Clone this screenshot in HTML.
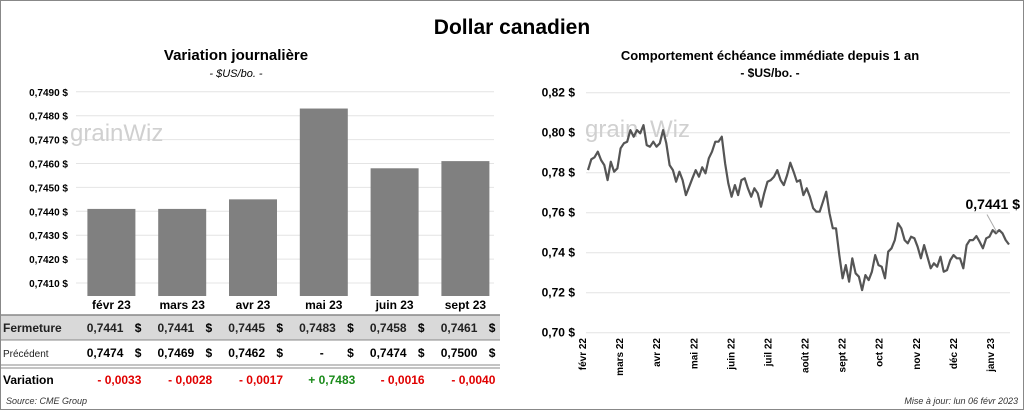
<!DOCTYPE html>
<html><head><meta charset="utf-8"><style>
body{margin:0;background:#fff;font-family:"Liberation Sans",sans-serif}
#c{position:relative;width:1024px;height:410px;overflow:hidden}
</style></head><body>
<div id="c">
<svg id="s" width="1024" height="410" xmlns="http://www.w3.org/2000/svg" font-family="Liberation Sans, sans-serif">
<rect x="0.5" y="0.5" width="1023" height="409" fill="#fff" stroke="#888"/>
<text x="512" y="34" text-anchor="middle" font-size="21" font-weight="bold">Dollar canadien</text>
<text x="236" y="60" text-anchor="middle" font-size="15" font-weight="bold">Variation  journalière</text>
<text x="236" y="77" text-anchor="middle" font-size="11" font-style="italic">- $US/bo. -</text>
<text x="770" y="60" text-anchor="middle" font-size="13" font-weight="bold">Comportement échéance immédiate depuis 1 an</text>
<text x="770" y="77" text-anchor="middle" font-size="12" font-weight="bold">- $US/bo. -</text>
<g id="left"></g><g id="right"></g><g id="tbl"></g>
<text x="6" y="404" font-size="9" font-style="italic" fill="#333">Source: CME Group</text>
<text x="1018" y="404" text-anchor="end" font-size="9" font-style="italic" fill="#333">Mise à jour: lun 06 févr 2023</text>
</svg></div>
<script>
const months=["févr 23","mars 23","avr 23","mai 23","juin 23","sept 23"];
const closeVals=[0.7441,0.7441,0.7445,0.7483,0.7458,0.7461];
const prevLabels=["0,7474","0,7469","0,7462","-","0,7474","0,7500"];
const varLabels=["- 0,0033","- 0,0028","- 0,0017","+ 0,7483","- 0,0016","- 0,0040"];
const leftTicks=[0.7410,0.7420,0.7430,0.7440,0.7450,0.7460,0.7470,0.7480,0.7490];
const rightTicks=[0.70,0.72,0.74,0.76,0.78,0.80,0.82];
const monthLabels=["févr 22","mars 22","avr 22","mai 22","juin 22","juil 22","août 22","sept 22","oct 22","nov 22","déc 22","janv 23"];
const series=[.7813,.7867,.7877,.7905,.7863,.7838,.7763,.7855,.7805,.7822,.7922,.7947,.7955,.8013,.798,.8013,.7997,.8038,.7938,.793,.7955,.793,.7947,.8013,.7947,.7838,.7813,.7755,.7805,.7763,.7688,.773,.7772,.7813,.778,.7827,.7797,.7872,.7905,.7955,.7955,.798,.7847,.7747,.768,.7738,.7688,.7763,.7772,.7722,.768,.7722,.7697,.763,.7697,.7755,.7763,.778,.7813,.7763,.7738,.7788,.785,.7805,.7755,.7763,.7688,.7722,.768,.7622,.7605,.7605,.7655,.7705,.7597,.7522,.7522,.7388,.7272,.7338,.7255,.7372,.7297,.728,.7213,.7288,.7263,.7305,.7388,.7338,.733,.7272,.7405,.7422,.7463,.7547,.7522,.7463,.7447,.748,.7472,.743,.7372,.7438,.738,.7322,.7347,.733,.738,.7305,.7313,.7363,.7388,.7372,.7372,.7322,.7438,.7463,.7463,.7483,.7455,.7422,.7472,.748,.7513,.7497,.7513,.7497,.7463,.7441];
const NS="http://www.w3.org/2000/svg";
function mk(p,t,a,txt){const e=document.createElementNS(NS,t);for(const k in a)e.setAttribute(k,a[k]);if(txt!==undefined)e.textContent=txt;p.appendChild(e);return e;}
function fmt(v,d){return v.toFixed(d).replace('.',',');}
const L=document.getElementById('left');
const ly=v=>283-(v-0.741)/0.001*23.9;
const lx0=74,step=70.8;
leftTicks.forEach(t=>{
 const g=mk(L,'line',{x1:76,x2:494,y1:ly(t),y2:ly(t),stroke:'#e4e4e4'});
 
 
 const tx=mk(L,'text',{x:68,y:ly(t)+4,'text-anchor':'end','font-size':10,'font-weight':'bold'},fmt(t,4)+' $');
 
 
});
closeVals.forEach((v,i)=>{
 const cx=lx0+step*(i+0.5)+2;
 const b=mk(L,'rect',{x:cx-24,y:ly(v),width:48,height:296-ly(v),fill:'#808080'});
 
 
});
const T=document.getElementById('tbl');
mk(T,'rect',{x:1,y:315,width:499,height:25,fill:'#d9d9d9'});
mk(T,'line',{x1:1,x2:500,y1:315,y2:315,stroke:'#888',"stroke-width":1.5});
mk(T,'line',{x1:1,x2:500,y1:340,y2:340,stroke:'#888'});
mk(T,'line',{x1:1,x2:500,y1:365,y2:365,stroke:'#888'});
mk(T,'line',{x1:1,x2:500,y1:368,y2:368,stroke:'#888'});
const r1=mk(T,'text',{x:3,y:332,'font-size':12,'font-weight':'bold',fill:'#222'},'Fermeture');


const r2=mk(T,'text',{x:3,y:357,'font-size':10,fill:'#222'},'Précédent');


const r3=mk(T,'text',{x:3,y:384,'font-size':12,'font-weight':'bold'},'Variation');


months.forEach((m,i)=>{
 const cx=lx0+step*(i+0.5)+2;
 const h=mk(T,'text',{x:cx,y:309,'text-anchor':'middle','font-size':12,'font-weight':'bold'},m);
 
 
 const c=mk(T,'text',{x:cx+12,y:332,'text-anchor':'end','font-size':12,'font-weight':'bold',fill:'#222'},fmt(closeVals[i],4));
 
 
 mk(T,'text',{x:cx+30,y:332,'text-anchor':'end','font-size':12,'font-weight':'bold'},'$');
 const p=mk(T,'text',{x:prevLabels[i]==='-'?cx:cx+12,y:357,'text-anchor':'end','font-size':12,'font-weight':'bold'},prevLabels[i]);
 
 
 mk(T,'text',{x:cx+30,y:357,'text-anchor':'end','font-size':12,'font-weight':'bold'},'$');
 const vv=mk(T,'text',{x:cx+8,y:384,'text-anchor':'middle','font-size':12,'font-weight':'bold',fill:varLabels[i][0]==='+'?'#1a8a1a':'#e00000'},varLabels[i]);
 
 
});
const R=document.getElementById('right');
const ry=v=>332.7-(v-0.70)/0.02*40;
const rx0=588,rx1=1009;
const rx=i=>rx0+(rx1-rx0)*i/(series.length-1);
rightTicks.forEach(t=>{
 const g=mk(R,'line',{x1:586,x2:1010,y1:ry(t),y2:ry(t),stroke:'#e4e4e4'});
 
 
 const tx=mk(R,'text',{x:575,y:ry(t)+4,'text-anchor':'end','font-size':12,'font-weight':'bold'},fmt(t,2)+' $');
 
 
});
mk(R,'text',{x:585,y:137,'font-size':24,fill:'#d0d0d0'},'grain');
mk(R,'text',{x:650,y:137,'font-size':24,fill:'#d0d0d0'},'Wiz');
mk(L,'text',{x:70,y:141,'font-size':24,fill:'#d0d0d0'},'grainWiz');
monthLabels.forEach((m,i)=>{
 const x=582+i*(990-582)/11;
 const tx=mk(R,'text',{transform:`translate(${x+4},338) rotate(-90)`,'text-anchor':'end','font-size':10,'font-weight':'bold'},m);
 
 
});
const pl=mk(R,'polyline',{points:series.map((v,i)=>rx(i).toFixed(1)+','+ry(v).toFixed(1)).join(' '),fill:'none',stroke:'#555','stroke-width':2.2,'stroke-linejoin':'round'});


const li=series.length-1;
mk(R,'line',{x1:rx(li)-12,y1:ry(series[li])-12,x2:rx(li)-22,y2:ry(series[li])-30,stroke:'#aaa'});
const lbl=mk(R,'text',{x:1020,y:209,'text-anchor':'end','font-size':14,'font-weight':'bold'},fmt(series[li],4)+' $');


</script>
</body></html>
